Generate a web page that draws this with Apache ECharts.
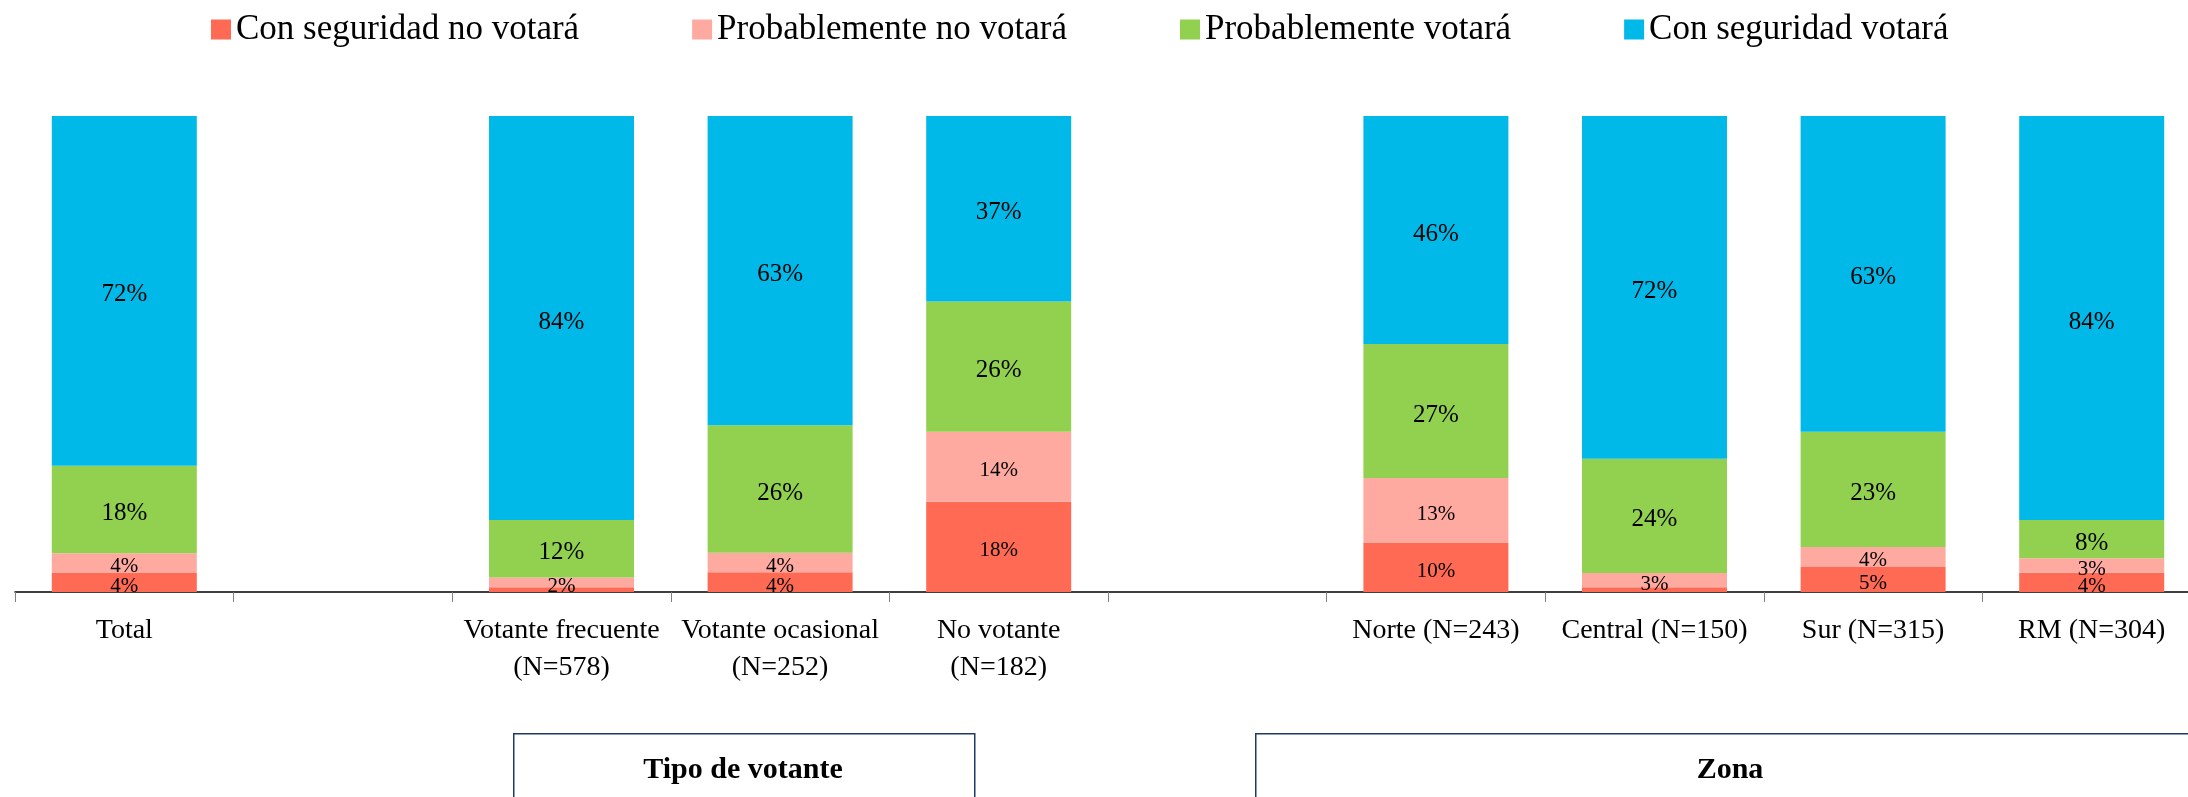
<!DOCTYPE html>
<html>
<head>
<meta charset="utf-8">
<script src="https://cdn.jsdelivr.net/npm/echarts@6/dist/echarts.min.js"></script>
<style>
html, body { margin: 0; padding: 0; background: #fff; overflow: hidden; }
/* un poco mas ancho que la ventana: la ultima columna queda cortada como en el original */
#main { width: 2201px; height: 797px; }
</style>
</head>
<body>
<div id="main"></div>
<script>
// categorias del eje x (los '' son huecos entre grupos)
var categorias = ['Total', '', 'Votante frecuente\n(N=578)', 'Votante ocasional\n(N=252)', 'No votante\n(N=182)', '', 'Norte (N=243)', 'Central (N=150)', 'Sur (N=315)', 'RM (N=304)'];
var seriesNombres = ['Con seguridad no votará', 'Probablemente no votará', 'Probablemente votará', 'Con seguridad votará'];
var seguroNo = [4, null, 1, 4, 18, null, 10, 1, 5, 4];
var probNo   = [4, null, 2, 4, 14, null, 13, 3, 4, 3];
var probSi   = [18, null, 12, 26, 26, null, 27, 24, 23, 8];
var seguroSi = [72, null, 84, 63, 37, null, 46, 72, 63, 84];
var colores = ['#FF6A54', '#FFAAA0', '#92D050', '#00B9E8'];

var fuente = 'Liberation Serif';
var valores = [seguroNo, probNo, probSi, seguroSi];

// total por barra, para apilar al 100%
var totales = categorias.map(function (c, i) {
    var s = 0;
    valores.forEach(function (arr) { if (arr[i] != null) s += arr[i]; });
    return s;
});

var series = valores.map(function (arr, k) {
    return {
        name: seriesNombres[k],
        type: 'bar',
        stack: 'total',
        barWidth: 145,
        itemStyle: { color: colores[k] },
        label: {
            show: true,
            position: 'inside',
            offset: [0, 4],
            color: '#000',
            fontFamily: fuente,
            fontSize: k < 2 ? 21 : 25,
            formatter: function (p) {
                return p.data && p.data.raw >= 2 ? p.data.raw + '%' : '';
            }
        },
        data: arr.map(function (v, i) {
            if (v == null) return '-';
            return { value: v / totales[i] * 100, raw: v };
        })
    };
});

var myChart = echarts.init(document.getElementById('main'));
var option = {
    animation: false,
    color: colores,
    legend: {
        data: seriesNombres,
        left: 211,
        top: 12,
        padding: 0,
        itemGap: 113,
        itemWidth: 20,
        itemHeight: 20,
        icon: 'rect',
        textStyle: { fontFamily: fuente, fontSize: 35, color: '#000' }
    },
    grid: {
        left: 15,
        right: 0,
        top: 116,
        bottom: 205,
        containLabel: false
    },
    xAxis: {
        type: 'category',
        data: categorias,
        axisLine: { lineStyle: { color: '#000', width: 1.5 } },
        axisTick: { show: true, length: 10, lineStyle: { color: '#808080', width: 1 } },
        axisLabel: {
            interval: 0,
            margin: 20,
            fontFamily: fuente,
            fontSize: 28,
            lineHeight: 37,
            color: '#000'
        }
    },
    yAxis: {
        type: 'value',
        min: 0,
        max: 100,
        show: false
    },
    graphic: [
        // recuadros de agrupacion bajo el eje
        {
            type: 'rect', left: 513, top: 733,
            shape: { width: 461, height: 100 },
            style: { fill: '#fff', stroke: '#203864', lineWidth: 1.5 }
        },
        {
            type: 'text', x: 743, y: 770,
            style: { text: 'Tipo de votante', fill: '#000', font: 'bold 30px "Liberation Serif"', textAlign: 'center', textVerticalAlign: 'middle' }
        },
        {
            type: 'rect', left: 1255, top: 733,
            shape: { width: 950, height: 100 },
            style: { fill: '#fff', stroke: '#203864', lineWidth: 1.5 }
        },
        {
            type: 'text', x: 1730, y: 770,
            style: { text: 'Zona', fill: '#000', font: 'bold 30px "Liberation Serif"', textAlign: 'center', textVerticalAlign: 'middle' }
        }
    ],
    series: series
};
myChart.setOption(option);
</script>
</body>
</html>
